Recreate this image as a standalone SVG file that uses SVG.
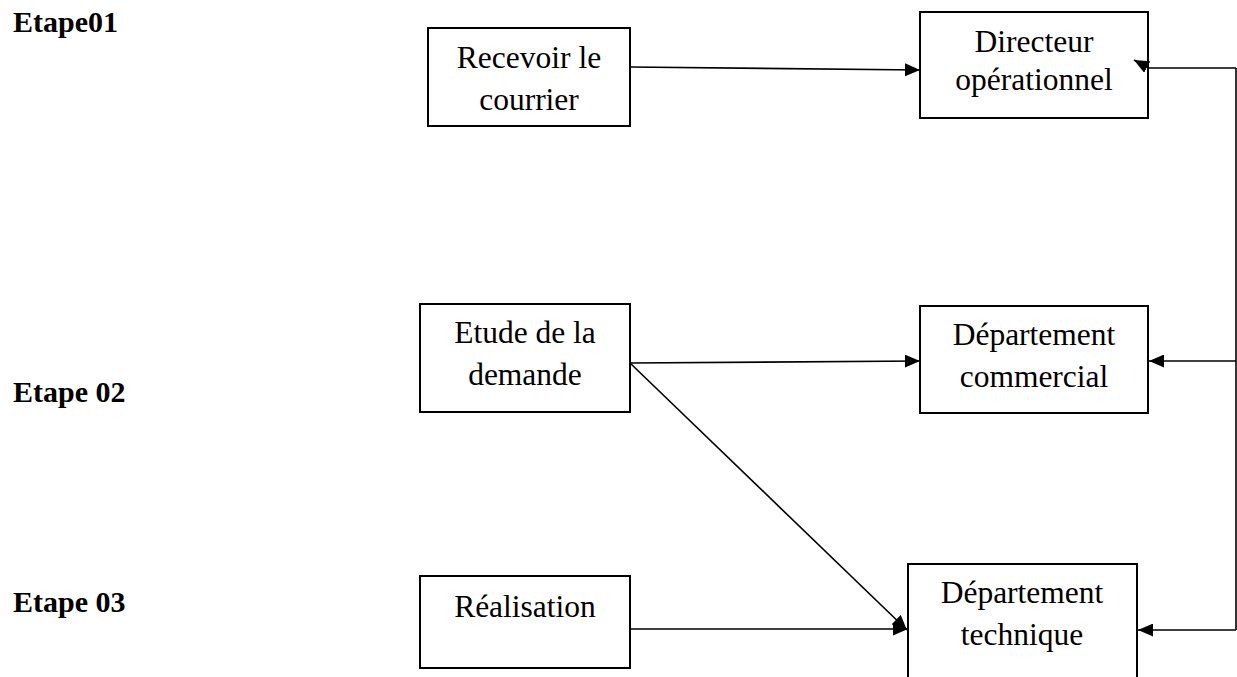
<svg xmlns="http://www.w3.org/2000/svg" width="1237" height="677" viewBox="0 0 1237 677">
  <style>
    .box { fill: #ffffff; stroke: #000000; stroke-width: 2; }
    .lbl { font-family: "Liberation Serif", "Times New Roman", serif; font-size: 31.5px; fill: #000000; text-anchor: middle; }
    .step { font-family: "Liberation Serif", "Times New Roman", serif; font-size: 30px; font-weight: bold; fill: #000000; }
    .wire { fill: none; stroke: #000000; stroke-width: 1.6; marker-end: url(#head); }
    .rail { fill: none; stroke: #000000; stroke-width: 1.6; }
  </style>
  <defs>
    <marker id="head" viewBox="0 0 15 13" refX="15" refY="6.5" markerWidth="15" markerHeight="13" markerUnits="userSpaceOnUse" orient="auto">
      <path d="M0,0 L15,6.5 L0,13 z" fill="#000000"/>
    </marker>
  </defs>
  <rect width="1237" height="677" fill="#ffffff"/>

  <!-- step labels -->
  <g id="steps">
    <text class="step" x="13" y="32">Etape01</text>
    <text class="step" x="13" y="402">Etape 02</text>
    <text class="step" x="13" y="612">Etape 03</text>
  </g>

  <g id="recevoir">
    <rect class="box" x="428" y="28" width="202" height="98"/>
    <text class="lbl" x="529" y="68">Recevoir le</text>
    <text class="lbl" x="529" y="110">courrier</text>
  </g>

  <g id="directeur">
    <rect class="box" x="920" y="12" width="228" height="106"/>
    <text class="lbl" x="1034" y="52">Directeur</text>
    <text class="lbl" x="1034" y="90">opérationnel</text>
  </g>

  <g id="etude">
    <rect class="box" x="420" y="304" width="210" height="108"/>
    <text class="lbl" x="525" y="343">Etude de la</text>
    <text class="lbl" x="525" y="385">demande</text>
  </g>

  <g id="commercial">
    <rect class="box" x="920" y="306" width="228" height="107"/>
    <text class="lbl" x="1034" y="345">Département</text>
    <text class="lbl" x="1034" y="387">commercial</text>
  </g>

  <g id="realisation">
    <rect class="box" x="420" y="576" width="210" height="92"/>
    <text class="lbl" x="525" y="617">Réalisation</text>
  </g>

  <g id="technique">
    <rect class="box" x="908" y="564" width="229" height="130"/>
    <text class="lbl" x="1022" y="603">Département</text>
    <text class="lbl" x="1022" y="645">technique</text>
  </g>

  <!-- connectors, drawn on top so heads overlapping a box stay visible -->
  <g id="connectors">
    <path class="wire" d="M630,67 L920,70"/>
    <path class="rail" d="M1236,68 V630"/>
    <path class="wire" d="M1236,68 H1149 L1134,60"/>
    <path class="wire" d="M630,363 L920,361"/>
    <path class="wire" d="M1236,361 H1149"/>
    <path class="wire" d="M630,363 L907,630"/>
    <path class="wire" d="M630,629 L908,629"/>
    <path class="wire" d="M1236,630 H1138"/>
  </g>
</svg>
